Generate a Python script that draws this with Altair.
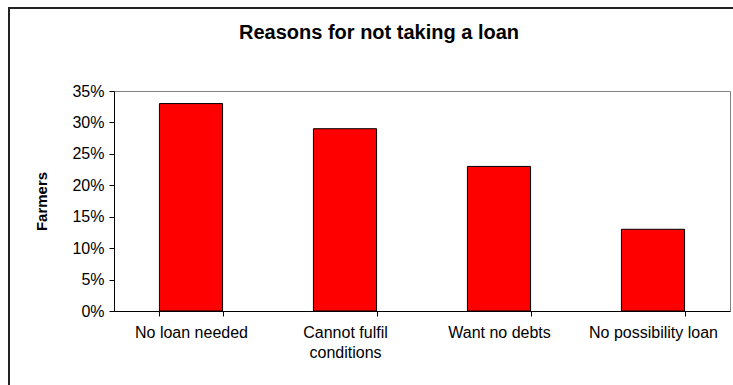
import altair as alt
import pandas as pd

categories = ["No loan needed", "Cannot fulfil conditions", "Want no debts", "No possibility loan"]
shares = [0.33, 0.29, 0.23, 0.13]
y_ticks = [0, 0.05, 0.10, 0.15, 0.20, 0.25, 0.30, 0.35]
chart_title = "Reasons for not taking a loan"
y_title = "Farmers"

FONT = "Liberation Sans"

df = pd.DataFrame({"reason": categories, "share": shares})

label_expr = "datum.label == 'Cannot fulfil conditions' ? ['Cannot fulfil', 'conditions'] : datum.label"

bars = alt.Chart(df).mark_bar(color="#FF0000", stroke="black", strokeWidth=1).encode(
    x=alt.X(
        "reason:N",
        sort=categories,
        title=None,
        scale=alt.Scale(paddingInner=0.59, paddingOuter=0.295),
        axis=alt.Axis(
            labelAngle=0,
            tickBand="extent",
            tickSize=5,
            tickColor="black",
            domainColor="black",
            labelColor="black",
            labelFont=FONT,
            labelFontSize=16,
            labelPadding=8,
            labelLimit=300,
            labelLineHeight=20,
            labelExpr=label_expr,
        ),
    ),
    y=alt.Y(
        "share:Q",
        title=y_title,
        scale=alt.Scale(domain=[0, 0.35], nice=False),
        axis=alt.Axis(
            values=y_ticks,
            format=".0%",
            grid=False,
            tickSize=5,
            tickColor="black",
            domainColor="black",
            labelColor="black",
            labelFont=FONT,
            labelFontSize=16,
            labelPadding=5,
            titleFont=FONT,
            titleFontSize=15,
            titleFontWeight="bold",
            titleColor="black",
            titleX=-73,
            titleY=110,
            titleAngle=270,
            titleAlign="center",
            titleBaseline="middle",
        ),
    ),
)

frame = alt.Chart(pd.DataFrame({"f": [0]})).mark_rect(
    filled=False, stroke="#222222", strokeWidth=2
).encode(
    x=alt.value(-105), x2=alt.value(640), y=alt.value(-83), y2=alt.value(310)
)

title = alt.Chart(pd.DataFrame({"t": [chart_title]})).mark_text(
    font=FONT, fontSize=20, fontWeight="bold", color="black", align="center", baseline="middle"
).encode(
    x=alt.value(265), y=alt.value(-58), text="t:N"
)

chart = alt.layer(frame, bars, title).properties(
    width=616,
    height=220,
    autosize=alt.AutoSizeParams(type="none"),
    padding={"left": 114, "top": 91, "right": 3, "bottom": 74},
    background="white",
).configure_view(stroke="#808080", strokeWidth=1)

chart.save("out.html", embed_options={"renderer": "svg", "actions": False})
